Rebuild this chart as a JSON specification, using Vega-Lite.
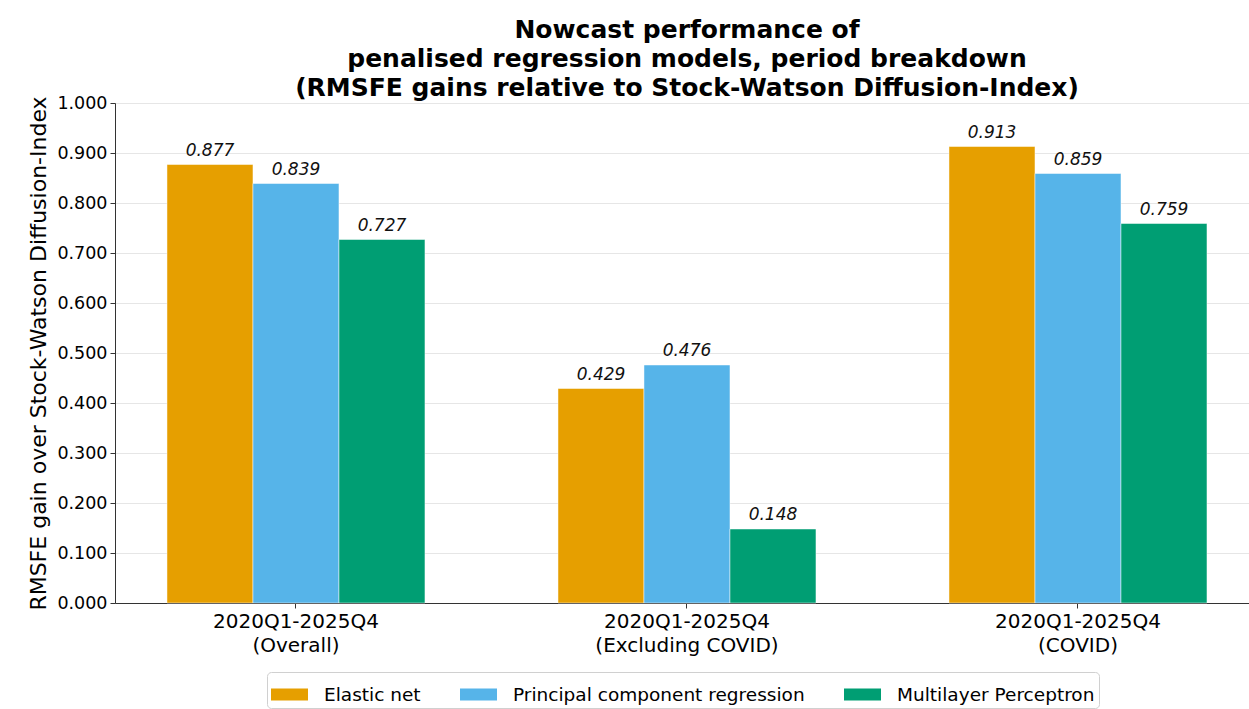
{
  "$schema": "https://vega.github.io/schema/vega-lite/v6.json",
  "width": 1134,
  "height": 500,
  "autosize": {"type": "none"},
  "padding": {"left": 115, "top": 103, "right": 0, "bottom": 106},
  "background": "white",
  "title": {
    "text": ["Nowcast performance of", "penalised regression models, period breakdown", "(RMSFE gains relative to Stock-Watson Diffusion-Index)"],
    "font": "DejaVu Sans",
    "fontSize": 25,
    "fontWeight": "bold",
    "lineHeight": 29,
    "color": "#000000",
    "anchor": "middle",
    "frame": "group",
    "dx": 5,
    "offset": -7
  },
  "data": {
    "values": [
      {"period": "2020Q1-2025Q4\n(Overall)", "model": "Elastic net", "gain": 0.877},
      {"period": "2020Q1-2025Q4\n(Overall)", "model": "Principal component regression", "gain": 0.839},
      {"period": "2020Q1-2025Q4\n(Overall)", "model": "Multilayer Perceptron", "gain": 0.727},
      {"period": "2020Q1-2025Q4\n(Excluding COVID)", "model": "Elastic net", "gain": 0.429},
      {"period": "2020Q1-2025Q4\n(Excluding COVID)", "model": "Principal component regression", "gain": 0.476},
      {"period": "2020Q1-2025Q4\n(Excluding COVID)", "model": "Multilayer Perceptron", "gain": 0.148},
      {"period": "2020Q1-2025Q4\n(COVID)", "model": "Elastic net", "gain": 0.913},
      {"period": "2020Q1-2025Q4\n(COVID)", "model": "Principal component regression", "gain": 0.859},
      {"period": "2020Q1-2025Q4\n(COVID)", "model": "Multilayer Perceptron", "gain": 0.759}
    ]
  },
  "encoding": {
    "x": {
      "field": "period",
      "type": "nominal",
      "sort": null,
      "scale": {"paddingInner": 0.3402, "paddingOuter": 0.1202, "align": 0.553},
      "axis": {
        "title": null,
        "labelAngle": 0,
        "labelExpr": "split(datum.label, '\\n')",
        "labelFont": "DejaVu Sans",
        "labelFontSize": 20,
        "labelLineHeight": 24,
        "labelLimit": 400,
        "labelColor": "#000000",
        "labelPadding": 3,
        "tickSize": 5,
        "tickColor": "#333333",
        "domainColor": "#333333",
        "domainWidth": 1,
        "grid": false
      }
    },
    "xOffset": {
      "field": "model",
      "type": "nominal",
      "sort": ["Elastic net", "Principal component regression", "Multilayer Perceptron"],
      "scale": {"paddingInner": 0, "paddingOuter": 0}
    },
    "y": {
      "field": "gain",
      "type": "quantitative",
      "scale": {"domain": [0, 1], "nice": false},
      "axis": {
        "title": "RMSFE gain over Stock-Watson Diffusion-Index",
        "titleFont": "DejaVu Sans",
        "titleFontSize": 22,
        "titleFontWeight": "normal",
        "titleColor": "#000000",
        "titlePadding": 6,
        "values": [0, 0.1, 0.2, 0.3, 0.4, 0.5, 0.6, 0.7, 0.8, 0.9, 1.0],
        "format": ".3f",
        "labelFont": "DejaVu Sans",
        "labelFontSize": 17.5,
        "labelColor": "#000000",
        "labelPadding": 3,
        "tickSize": 5,
        "tickColor": "#333333",
        "domainColor": "#333333",
        "grid": true,
        "gridColor": "#e6e6e6",
        "gridWidth": 1
      }
    }
  },
  "layer": [
    {
      "mark": {"type": "bar", "stroke": "white", "strokeWidth": 0.8, "strokeOpacity": 0.6},
      "encoding": {
        "color": {
          "field": "model",
          "type": "nominal",
          "sort": ["Elastic net", "Principal component regression", "Multilayer Perceptron"],
          "scale": {
            "domain": ["Elastic net", "Principal component regression", "Multilayer Perceptron"],
            "range": ["#E69F00", "#56B4E9", "#009E73"]
          },
          "legend": {
            "title": null,
            "orient": "none",
            "legendX": 152,
            "legendY": 569,
            "direction": "horizontal",
            "padding": 4,
            "strokeColor": "#d0d0d0",
            "cornerRadius": 4,
            "fillColor": "white",
            "symbolType": "M-1,-0.324H1V0.324H-1Z",
            "symbolSize": 1369,
            "symbolStrokeWidth": 0,
            "symbolOpacity": 1,
            "labelFont": "DejaVu Sans",
            "labelFontSize": 18.5,
            "labelLimit": 500,
            "labelColor": "#000000",
            "labelOffset": 16,
            "columnPadding": 39
          }
        }
      }
    },
    {
      "mark": {"type": "text", "baseline": "bottom", "dy": -5, "font": "DejaVu Sans", "fontSize": 17, "fontStyle": "italic", "color": "#111111"},
      "encoding": {
        "text": {"field": "gain", "type": "quantitative", "format": ".3f"}
      }
    }
  ]
}
